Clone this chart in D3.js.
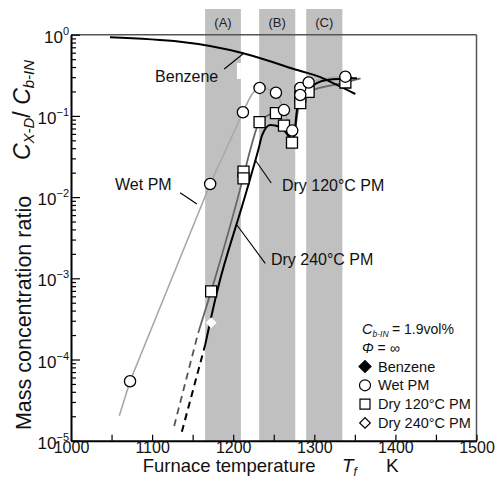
<!DOCTYPE html>
<html><head><meta charset="utf-8">
<script src="https://cdn.jsdelivr.net/npm/d3@7"></script>
<style>body{margin:0;background:#fff}svg{display:block;font-family:"Liberation Sans",Arial,Helvetica,sans-serif}</style>
</head><body><svg id="c" width="500" height="486"></svg>
<script>
// ---- data ----
const bandRanges = [[1165.4,1209.5],[1232,1276.5],[1290,1334.6]];
const bandLabels = ["(A)","(B)","(C)"];
const xTickLabels = [1000,1100,1200,1300,1400,1500];
const yTickExps = [0,-1,-2,-3,-4,-5];

const benzeneT = [1048,1134.6,1212.3,1279,1307.4,1350.6];
const benzeneV = [0.929,0.82,0.59,0.367,0.30,0.186];

const wetT = [1072.8,1171.6,1212,1232.5,1252.7,1262.6,1272.8,1282.7,1282.7,1293,1338.3];
const wetV = [5.4e-5,0.0145,0.111,0.221,0.193,0.118,0.066,0.221,0.181,0.258,0.304];
const wetLowCurveT = [1059.6,1072.8,1171.6,1212];
const wetLowCurveV = [2.03e-5,5.4e-5,0.0145,0.111];
const wetHighCurveT = [1212,1232.5,1252.7,1262.6,1272.8,1282.7,1293,1338.3,1354.3];
const wetHighCurveV = [0.111,0.221,0.193,0.118,0.066,0.2,0.258,0.304,0.285];

const dry120T = [1172.8,1212.7,1212.7,1232.5,1252.7,1262.6,1272.5,1282.7,1282.7,1293,1338.3];
const dry120V = [6.9e-4,0.0206,0.017,0.084,0.108,0.0757,0.0468,0.174,0.144,0.198,0.258];
const dry120DashT = [1127.2,1156.8];
const dry120DashV = [1.52e-5,2.12e-4];
const dry120CurveT = [1156.8,1172.8,1212.7,1221,1232.5,1252.7,1262.6,1272.5,1282.7,1293,1338.3,1357];
const dry120CurveV = [2.12e-4,6.9e-4,0.018,0.038,0.084,0.108,0.0757,0.0468,0.16,0.198,0.258,0.29];

const dry240T = [1172.8];
const dry240V = [2.84e-4];
const dry240DashT = [1136.7,1165.4];
const dry240DashV = [1.29e-5,1.51e-4];
const dry240CurveT = [1165.4,1180,1213.2,1230.9,1235.8,1245.7,1258,1270.4,1274.1,1280.2,1291,1315.7,1352.7];
const dry240CurveV = [1.51e-4,6.8e-4,0.0092,0.038,0.0582,0.0773,0.073,0.0535,0.049,0.157,0.208,0.277,0.29];

// annotations: label anchor [T,V] and leader line [[T,V],[T,V]]
const annotations = [
  {text:"Benzene", at:[1103.7,0.264], leader:[[1188.9,0.378],[1212,0.578]]},
  {text:"Wet PM", at:[1054.3,0.01222], leader:[[1134.6,0.01133],[1155.2,0.00822]]},
  {text:"Dry 120°C PM", at:[1260.1,0.0119], leader:[[1227.2,0.0286],[1246.9,0.0149]]},
  {text:"Dry 240°C PM", at:[1246.5,0.00146], leader:[[1204.6,0.00453],[1239.5,0.00153]]}
];
const benzeneLabelBox = [[1204.6,0.448],[1209.5,0.285]];

// ---- drawing ----
const svg = d3.select("#c");
const L=71, R=476.5, T=34.7, B=440.7;
const x = d3.scaleLinear().domain([1000,1500]).range([L,R]);
const y = d3.scaleLog().domain([1e-5,1]).range([B,T]);

// bands
svg.append("g").selectAll("rect").data(bandRanges).join("rect")
  .attr("x",d=>x(d[0])).attr("width",d=>x(d[1])-x(d[0]))
  .attr("y",9).attr("height",B-9).attr("fill","#c0c0c0");
svg.append("g").selectAll("text").data(bandRanges).join("text")
  .attr("x",d=>x((d[0]+d[1])/2)).attr("y",27).attr("text-anchor","middle")
  .attr("font-size",13).attr("fill","#222").text((d,i)=>bandLabels[i]);

// white patch from Benzene label box
svg.append("rect").attr("x",x(benzeneLabelBox[0][0])).attr("y",y(benzeneLabelBox[0][1]))
  .attr("width",x(benzeneLabelBox[1][0])-x(benzeneLabelBox[0][0]))
  .attr("height",y(benzeneLabelBox[1][1])-y(benzeneLabelBox[0][1])).attr("fill","#fff");

// frame top/right
svg.append("line").attr("x1",L).attr("x2",R).attr("y1",T).attr("y2",T).attr("stroke","#555").attr("stroke-width",1.5);
svg.append("line").attr("x1",R).attr("x2",R).attr("y1",T).attr("y2",B).attr("stroke","#555").attr("stroke-width",1.5);

// x axis
const xa = svg.append("g").attr("transform",`translate(0,${B})`)
  .call(d3.axisBottom(x).tickValues(d3.range(1000,1501,50))
    .tickFormat(d=>xTickLabels.includes(d)?d:"").tickSizeInner(-6).tickSizeOuter(0).tickPadding(1));
xa.select(".domain").attr("stroke","#000").attr("stroke-width",2);
xa.selectAll(".tick line").attr("stroke","#000").attr("stroke-width",1.2);
xa.selectAll(".tick text").attr("font-size",16).attr("fill","#111").attr("font-family","Liberation Sans, Arial, sans-serif");

// y axis
const yVals = [];
for (let e=-5;e<0;e++) for (let m=1;m<10;m++) yVals.push(m*Math.pow(10,e));
yVals.push(1);
const ya = svg.append("g").attr("transform",`translate(${L},0)`)
  .call(d3.axisLeft(y).tickValues(yVals).tickFormat("").tickSizeInner(-5).tickSizeOuter(0));
ya.select(".domain").attr("stroke","#000").attr("stroke-width",2);
ya.selectAll(".tick line").attr("stroke","#000").attr("stroke-width",1.2)
  .attr("x2",d=>Math.abs(Math.log10(d)-Math.round(Math.log10(d)))<1e-9?9:5);
const yl = svg.append("g").selectAll("text").data(yTickExps).join("text")
  .attr("x",69).attr("y",d=>y(Math.pow(10,d))+8).attr("text-anchor","end").attr("fill","#111");
yl.append("tspan").attr("font-size",17).text("10");
yl.append("tspan").attr("font-size",11).attr("dy",-8).text(d=>d===0?"0":"\u2212"+(-d));

// axis titles
svg.append("text").attr("x",142.7).attr("y",472).attr("font-size",18.5).attr("fill","#111").text("Furnace temperature");
const tf = svg.append("text").attr("x",342).attr("y",472).attr("font-size",19).attr("fill","#111");
tf.append("tspan").attr("font-style","italic").text("T");
tf.append("tspan").attr("font-style","italic").attr("font-size",12).attr("dy",4).text("f");
svg.append("text").attr("x",386).attr("y",472).attr("font-size",19).attr("fill","#111").text("K");

svg.append("text").attr("transform","translate(31,313) rotate(-90)").attr("text-anchor","middle")
  .attr("font-size",21.5).attr("fill","#111").text("Mass concentration ratio");
const yt = svg.append("text").attr("transform","translate(30,110) rotate(-90)").attr("text-anchor","middle").attr("fill","#111");
yt.append("tspan").attr("font-size",23).attr("font-style","italic").text("C");
yt.append("tspan").attr("font-size",15).attr("font-style","italic").attr("dy",4).text("X-D");
yt.append("tspan").attr("font-size",23).attr("dy",-4).text("/ ");
yt.append("tspan").attr("font-size",23).attr("font-style","italic").text("C");
yt.append("tspan").attr("font-size",15).attr("font-style","italic").attr("dy",4).text("b-IN");

// curves
const lineGen = d3.line().x(d=>x(d[0])).y(d=>y(d[1]));
const zip = (a,b)=>a.map((v,i)=>[v,b[i]]);
const drawPath = (pts, curve, color, w, dash) => {
  const p = svg.append("path").datum(pts).attr("d",lineGen.curve(curve)(pts))
    .attr("fill","none").attr("stroke",color).attr("stroke-width",w);
  if (dash) p.attr("stroke-dasharray",dash);
};
drawPath(zip(wetLowCurveT,wetLowCurveV), d3.curveLinear, "#a8a8a8", 1.6);
drawPath(zip(wetHighCurveT,wetHighCurveV), d3.curveMonotoneX, "#a8a8a8", 1.6);
drawPath(zip(dry120DashT,dry120DashV), d3.curveLinear, "#555", 1.8, "7,5");
drawPath(zip(dry240DashT,dry240DashV), d3.curveLinear, "#000", 2, "7,5");
drawPath(zip(dry120CurveT,dry120CurveV), d3.curveMonotoneX, "#666", 1.8);
drawPath(zip(dry240CurveT,dry240CurveV), d3.curveMonotoneX, "#000", 2);
drawPath(zip(benzeneT,benzeneV), d3.curveNatural, "#000", 2);

// annotations
annotations.forEach(a=>{
  svg.append("line").attr("x1",x(a.leader[0][0])).attr("y1",y(a.leader[0][1]))
    .attr("x2",x(a.leader[1][0])).attr("y2",y(a.leader[1][1])).attr("stroke","#000").attr("stroke-width",1.1);
  svg.append("text").attr("x",x(a.at[0])).attr("y",y(a.at[1])).attr("font-size",16).attr("fill","#111").text(a.text);
});

// points
const sq = d3.symbol().type(d3.symbolSquare).size(121);
svg.append("g").selectAll("path").data(zip(dry120T,dry120V)).join("path")
  .attr("d",sq).attr("transform",d=>`translate(${x(d[0])},${y(d[1])})`)
  .attr("fill","#fff").attr("stroke","#000").attr("stroke-width",1.3);
svg.append("g").selectAll("circle").data(zip(wetT,wetV)).join("circle")
  .attr("cx",d=>x(d[0])).attr("cy",d=>y(d[1])).attr("r",5.6)
  .attr("fill","#fff").attr("stroke","#000").attr("stroke-width",1.3);
const dm = d3.symbol().type(d3.symbolSquare).size(60);
svg.append("g").selectAll("path").data(zip(dry240T,dry240V)).join("path")
  .attr("d",dm).attr("transform",d=>`translate(${x(d[0])},${y(d[1])}) rotate(45)`)
  .attr("fill","#fff");

// legend
const lg = svg.append("g").attr("fill","#111");
const l1 = lg.append("text").attr("x",362).attr("y",334).attr("font-size",14.5);
l1.append("tspan").attr("font-style","italic").text("C");
l1.append("tspan").attr("font-style","italic").attr("font-size",8.5).attr("dy",3).text("b-IN");
l1.append("tspan").attr("font-size",14).attr("dy",-3).attr("x",392).text("= 1.9vol%");
const l2 = lg.append("text").attr("x",362).attr("y",353).attr("font-size",14);
l2.append("tspan").attr("font-style","italic").text("\u03A6");
l2.append("tspan").text(" = \u221E");
const legItems = [["Benzene","dfill"],["Wet PM","circle"],["Dry 120°C PM","square"],["Dry 240°C PM","diamond"]];
legItems.forEach((it,i)=>{
  const cy = 366.5 + i*18.8;
  if (it[1]==="circle") lg.append("circle").attr("cx",365).attr("cy",cy).attr("r",5.5).attr("fill","#fff").attr("stroke","#000").attr("stroke-width",1.2);
  else if (it[1]==="square") lg.append("path").attr("d",d3.symbol().type(d3.symbolSquare).size(100)).attr("transform",`translate(365,${cy})`).attr("fill","#fff").attr("stroke","#000").attr("stroke-width",1.2);
  else lg.append("path").attr("d",d3.symbol().type(d3.symbolSquare).size(it[1]==="dfill"?72:56)).attr("transform",`translate(365,${cy}) rotate(45)`)
    .attr("fill",it[1]==="dfill"?"#000":"#fff").attr("stroke","#000").attr("stroke-width",1.2);
  lg.append("text").attr("x",378).attr("y",cy+5).attr("font-size",14.5).text(it[0]);
});
</script></body></html>
